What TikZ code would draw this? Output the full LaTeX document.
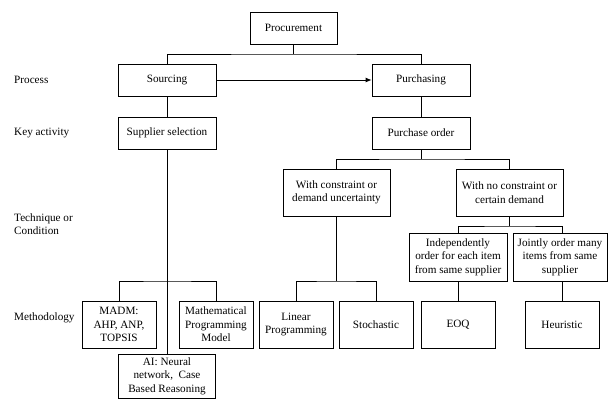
\documentclass[tikz,border=0pt]{standalone}
\usepackage{fontspec}
\setmainfont{Liberation Serif}
\newfontfamily\tnr{Liberation Serif}
\usetikzlibrary{arrows.meta}
\begin{document}
\begin{tikzpicture}[x=1pt,y=-1pt,
  box/.style={draw,line width=0.8pt,inner sep=1pt,align=center,font=\tnr\fontsize{11.2}{13.5}\selectfont},
  lbl/.style={anchor=west,align=left,inner sep=0pt,font=\tnr\fontsize{11.2}{13.5}\selectfont},
  conn/.style={line width=0.8pt}]
\useasboundingbox (0,0) rectangle (609,399);
% boxes
\node[box,minimum width=87pt,minimum height=32pt] (proc) at (293.5,28) {Procurement};
\node[box,minimum width=98pt,minimum height=32pt] (src) at (167,80) {Sourcing};
\node[box,minimum width=98pt,minimum height=32pt] (pur) at (421,80) {Purchasing};
\node[box,minimum width=98pt,minimum height=32pt] (sup) at (167,133) {Supplier selection};
\node[box,minimum width=98pt,minimum height=32pt] (po) at (421,133) {Purchase order};
\node[box,minimum width=107pt,minimum height=47pt] (wc) at (336.5,192.5) {With constraint or\\demand uncertainty};
\node[box,minimum width=107pt,minimum height=47pt] (wn) at (509.5,192.5) {With no constraint or\\certain demand};
\node[box,minimum width=74pt,minimum height=47pt] (madm) at (119,324.5) {MADM:\\AHP, ANP,\\TOPSIS};
\node[box,minimum width=74pt,minimum height=47pt] (math) at (216,324.5) {Mathematical\\Programming\\Model};
\node[box,minimum width=97pt,minimum height=44pt] (ai) at (167,376) {AI: Neural\\network,\ \ Case\\Based Reasoning};
\node[box,minimum width=74pt,minimum height=47pt] (lp) at (296,324.5) {Linear\\Programming};
\node[box,minimum width=74pt,minimum height=47pt] (sto) at (376,324.5) {Stochastic};
\node[box,minimum width=98pt,minimum height=48pt] (ind) at (458,257) {Independently\\order for each item\\from same supplier};
\node[box,minimum width=94pt,minimum height=48pt] (joi) at (560,257) {Jointly order many\\items from same\\supplier};
\node[box,minimum width=74pt,minimum height=47pt] (eoq) at (458,324.5) {EOQ};
\node[box,minimum width=74pt,minimum height=47pt] (heu) at (562,324.5) {Heuristic};
% left labels
\node[lbl] (l1) at (14,80) {Process};
\node[lbl] (l2) at (14,133) {Key activity};
\node[lbl] (l3) at (14,224) {Technique or\\Condition};
\node[lbl] (l4) at (14,318) {Methodology};
% junctions
\coordinate (j1) at (293.5,54);
\coordinate (j2) at (421,159);
\coordinate (j3) at (509.5,226);
\coordinate (j4) at (336.5,281);
\coordinate (j5) at (167,281);
% connectors
\draw[conn] (proc.south) -- (j1);
\draw[conn] (src.north) |- (j1) -| (pur.north);
\draw[conn,-{Latex[length=6pt,width=5pt]}] (src.east) -- (pur.west);
\draw[conn] (src) -- (sup);
\draw[conn] (pur) -- (po);
\draw[conn] (po.south) -- (j2);
\draw[conn] (wc.north) |- (j2) -| (wn.north);
\draw[conn] (wn.south) -- (j3);
\draw[conn] (ind.north) |- (j3) -| (joi.north -| heu.north);
\draw[conn] (wc.south) -- (j4);
\draw[conn] (lp.north) |- (j4) -| (sto.north);
\draw[conn] (sup.south) -- (ai.north);
\draw[conn] (madm.north) |- (j5) -| (math.north);
\draw[conn] (ind.south) -- (eoq.north);
\draw[conn] (joi.south -| heu.north) -- (heu.north);
\end{tikzpicture}
\end{document}
